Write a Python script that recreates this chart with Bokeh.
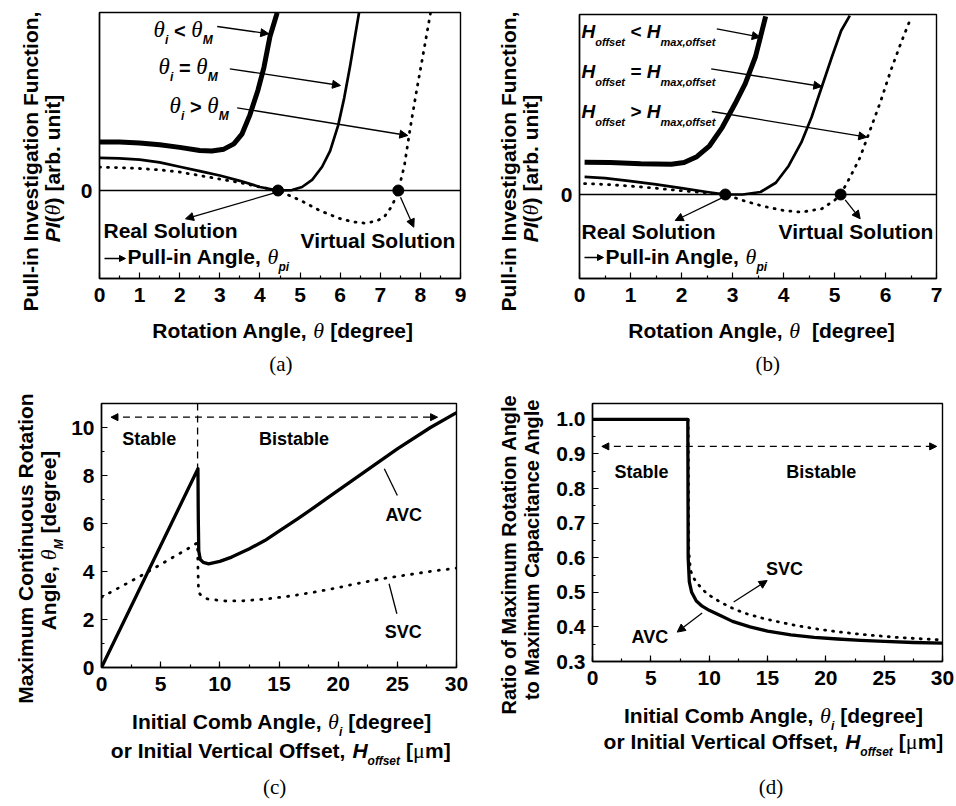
import math
from bokeh.plotting import figure
from bokeh.layouts import column, row
from bokeh.models import (Label, Arrow, NormalHead, Span, FixedTicker, Range1d,
                          SingleIntervalTicker, PrintfTickFormatter)
from bokeh.embed import file_html
from bokeh.resources import INLINE

# ---------------- data ----------------
# (a) Pull-in investigation function vs rotation angle
a_lt_x = [0, 0.5, 1.0, 1.5, 2.0, 2.5, 2.8, 3.1, 3.35, 3.55, 3.75, 3.95, 4.1, 4.25, 4.43]
a_lt_y = [0.55, 0.55, 0.54, 0.52, 0.49, 0.455, 0.45, 0.47, 0.53, 0.64, 0.86, 1.14, 1.40, 1.75, 2.02]
a_eq_x = [0, 0.5, 1.0, 1.5, 2.0, 2.5, 3.0, 3.5, 4.0, 4.45, 4.8, 5.05, 5.3, 5.55, 5.75, 5.95, 6.1, 6.25, 6.37, 6.47]
a_eq_y = [0.37, 0.365, 0.35, 0.32, 0.27, 0.22, 0.17, 0.11, 0.04, 0.0, 0.005, 0.04, 0.12, 0.27, 0.45, 0.74, 1.05, 1.42, 1.75, 2.02]
a_gt_x = [0, 0.5, 1.0, 1.5, 2.0, 2.5, 3.0, 3.5, 4.0, 4.45, 5.0, 5.5, 6.0, 6.3, 6.6, 6.9, 7.1, 7.3, 7.45, 7.6, 7.75, 7.9, 8.05, 8.25]
a_gt_y = [0.265, 0.26, 0.25, 0.235, 0.21, 0.17, 0.13, 0.09, 0.04, 0.0, -0.11, -0.23, -0.32, -0.355, -0.37, -0.35, -0.3, -0.17, 0.0, 0.28, 0.72, 1.12, 1.5, 2.01]
a_sol_x = [4.45, 7.45]
a_sol_y = [0, 0]
a_ticks = [0, 1, 2, 3, 4, 5, 6, 7, 8, 9]

# (b) same for vertical offset
b_lt_x = [0.1, 0.6, 1.2, 1.8, 2.05, 2.3, 2.55, 2.8, 3.05, 3.25, 3.45, 3.65]
b_lt_y = [0.385, 0.38, 0.365, 0.36, 0.38, 0.45, 0.58, 0.8, 1.08, 1.32, 1.64, 2.12]
b_eq_x = [0.1, 0.5, 1.0, 1.5, 2.0, 2.5, 2.86, 3.2, 3.55, 3.85, 4.1, 4.35, 4.55, 4.75, 4.95, 5.13, 5.3]
b_eq_y = [0.21, 0.195, 0.16, 0.12, 0.075, 0.03, 0.0, 0.0, 0.03, 0.14, 0.34, 0.62, 0.92, 1.28, 1.64, 1.95, 2.13]
b_gt_x = [0.1, 0.5, 1.0, 1.5, 2.0, 2.5, 2.86, 3.2, 3.6, 4.0, 4.35, 4.75, 5.0, 5.12, 5.3, 5.5, 5.7, 5.9, 6.1, 6.3, 6.51]
b_gt_y = [0.13, 0.12, 0.1, 0.075, 0.045, 0.02, 0.0, -0.07, -0.14, -0.19, -0.21, -0.17, -0.07, 0.0, 0.2, 0.44, 0.77, 1.1, 1.47, 1.8, 2.12]
b_sol_x = [2.86, 5.12]
b_sol_y = [0, 0]
b_ticks = [0, 1, 2, 3, 4, 5, 6, 7]

# (c) maximum continuous rotation angle
c_avc_x = [0, 8.15, 8.18, 8.22, 8.35, 8.6, 9.05, 10, 11, 12.5, 13.8, 15, 16.6, 18, 19.4, 22.2, 25, 27.8, 30]
c_avc_y = [0, 8.28, 6.2, 4.85, 4.5, 4.38, 4.32, 4.42, 4.6, 4.95, 5.29, 5.68, 6.2, 6.68, 7.17, 8.14, 9.11, 10.0, 10.62]
c_svc_x = [0, 1.5, 3, 4.5, 6, 7.2, 8.12, 8.15, 8.2, 8.5, 9, 10.5, 12, 14, 16, 18, 20, 22.2, 24, 26.4, 28, 30]
c_svc_y = [2.93, 3.33, 3.73, 4.15, 4.58, 4.92, 5.2, 4.2, 3.14, 2.95, 2.85, 2.77, 2.78, 2.86, 2.98, 3.14, 3.33, 3.56, 3.72, 3.9, 4.02, 4.14]
c_boundary = 8.12
c_arrow_level = 10.43

# (d) ratio of maximum rotation angle to maximum capacitance angle
d_avc_x = [0, 8.17, 8.2, 8.3, 8.5, 8.9, 9.4, 10, 11, 12, 13.5, 15, 17, 19, 21, 23, 25, 27.5, 30]
d_avc_y = [1.0, 1.0, 0.6, 0.53, 0.5, 0.475, 0.46, 0.448, 0.432, 0.416, 0.4, 0.388, 0.377, 0.37, 0.365, 0.361, 0.358, 0.355, 0.353]
d_svc_x = [0, 8.2, 8.25, 8.4, 8.7, 9.0, 9.8, 10.8, 11.8, 13, 14.7, 17, 19, 21, 23.2, 26, 30]
d_svc_y = [1.0, 1.0, 0.62, 0.563, 0.54, 0.525, 0.496, 0.475, 0.457, 0.44, 0.424, 0.407, 0.395, 0.386, 0.378, 0.37, 0.362]
d_arrow_level = 0.922
d_yticks = [0.3, 0.4, 0.5, 0.6, 0.7, 0.8, 0.9, 1.0]

# ---------------- helpers ----------------
SANS = "Liberation Sans"
SERIF = "Liberation Serif"
BASE_FIX = 0.33  # baseline correction (em) so the text baseline lands on the anchor

W_B = {}
for chars, w in [(" ,.", 278), ("()-[]", 333), ("<=>", 584), ("0123456789", 556),
                 ("ABCDHKNRU", 722), ("E", 667), ("FLTZ", 611), ("GOQ", 778),
                 ("I", 278), ("J", 556), ("M", 833), ("PSVXY", 667), ("W", 944),
                 ("acesvxyk", 556), ("bdghnopqu", 611), ("f", 333), ("t", 333),
                 ("ijl", 278), ("m", 889), ("r", 389), ("w", 778), ("z", 500)]:
    for ch in chars:
        W_B[ch] = w
W_S = {"θ": 500, "(": 333, ")": 333, "a": 444, "b": 500, "c": 444, "d": 500, "μ": 540, " ": 250}


def tw(text, st, size):
    table = W_S if st.startswith("s") else W_B
    return sum(table.get(ch, 556) for ch in text) * size / 1000.0


STYLE = {"b": (SANS, "bold"), "bi": (SANS, "bold italic"),
         "si": (SERIF, "italic"), "s": (SERIF, "normal")}

# frames in page pixels: left, right, top, bottom, x0, x1, y0, y1
FR = {
    "a": (99, 460, 12, 278, 0, 9, -1.0, 2.023),
    "b": (579, 936, 14, 278, 0, 7, -1.0, 2.143),
    "c": (99, 456, 403, 667, 0, 30, 0, 11),
    "d": (592, 942, 403, 661, 0, 30, 0.3, 1.046),
}


def px(k, rx, ry):
    L, R, T, B, x0, x1, y0, y1 = FR[k]
    return (x0 + (rx - L) / (R - L) * (x1 - x0), y0 + (B - ry) / (B - T) * (y1 - y0))


def rich(p, x, y, runs, align="left", angle=0.0):
    widths = [tw(t, st, sz) for t, st, sz, sh in runs]
    total = sum(widths)
    pos = {"left": 0.0, "center": -total / 2.0, "right": -total}[align]
    for (t, st, sz, sh), w in zip(runs, widths):
        font, fstyle = STYLE[st]
        lead = len(t) - len(t.lstrip(" "))
        start = pos + tw(" " * lead, st, sz)
        txt = t.strip(" ")
        fix = BASE_FIX * sz
        if txt:
            if angle == 0:
                xo, yo = start, -sh + fix
            else:
                xo, yo = sh - fix, start
            p.add_layout(Label(x=x, y=y, x_offset=xo, y_offset=yo, text=txt, angle=angle,
                               text_align="left", text_baseline="alphabetic",
                               text_font=font, text_font_style=fstyle,
                               text_font_size=f"{sz}px", text_color="black"))
        pos += w


def rich_px(p, k, rx, ry, runs, align="left", angle=0.0):
    x, y = px(k, rx, ry)
    rich(p, x, y, runs, align, angle)


def arrow(p, x0, y0, x1, y1, head=8, lw=1.3, dash="solid", both=False):
    h = lambda: NormalHead(size=head, fill_color="black", line_color="black", line_width=1)
    p.add_layout(Arrow(start=h() if both else None, end=h(), x_start=x0, y_start=y0,
                       x_end=x1, y_end=y1, line_width=lw, line_color="black", line_dash=dash))


def arrow_px(p, k, a, b, c, d, **kw):
    x0, y0 = px(k, a, b)
    x1, y1 = px(k, c, d)
    arrow(p, x0, y0, x1, y1, **kw)


def mkfig(k, X0, Y0, w, h):
    """Plot figure whose top-left corner sits at page pixel (X0, Y0)."""
    L, R, T, B, x0, x1, y0, y1 = FR[k]
    p = figure(width=w, height=h, x_range=Range1d(x0, x1), y_range=Range1d(y0, y1),
               output_backend="svg", toolbar_location=None,
               min_border_left=L - X0, min_border_right=X0 + w - R,
               min_border_top=T - Y0, min_border_bottom=Y0 + h - B)
    p.xgrid.visible = False
    p.ygrid.visible = False
    p.outline_line_color = "black"
    p.outline_line_width = 1.4
    p.outline_line_alpha = 1.0
    p.background_fill_color = "white"
    p.border_fill_color = "white"
    for ax in (p.xaxis[0], p.yaxis[0]):
        ax.axis_line_width = 1.4
        ax.axis_line_color = "black"
        ax.major_tick_in = 6
        ax.major_tick_out = 0
        ax.minor_tick_in = 3
        ax.minor_tick_out = 0
        ax.major_tick_line_width = 1.2
        ax.minor_tick_line_width = 1.2
        ax.major_label_text_font = SANS
        ax.major_label_text_font_style = "bold"
        ax.major_label_text_font_size = "21px"
        ax.major_label_text_color = "black"
        ax.major_label_standoff = 7
    p.xaxis[0].major_label_standoff = 9
    return p


class Strip:
    """Text-only figure covering page pixels X0..X0+w, Y0..Y0+h."""

    def __init__(self, X0, Y0, w, h):
        self.X0, self.Y0, self.w, self.h = X0, Y0, w, h
        p = figure(width=w, height=h, x_range=Range1d(0, w), y_range=Range1d(0, h),
                   x_axis_type=None, y_axis_type=None, output_backend="svg",
                   toolbar_location=None, min_border=0)
        p.min_border_left = p.min_border_right = p.min_border_top = p.min_border_bottom = 0
        p.xgrid.visible = False
        p.ygrid.visible = False
        p.outline_line_color = None
        p.background_fill_color = "white"
        p.border_fill_color = "white"
        self.p = p

    def text(self, rx, ry, runs, align="center", angle=0.0):
        rich(self.p, rx - self.X0, self.Y0 + self.h - ry, runs, align, angle)


Y_ROT = math.pi / 2
XLAB_A = [("Rotation Angle, ", "b", 21, 0), ("θ", "si", 22, 0), (" [degree]", "b", 21, 0)]
XLAB_B = [("Rotation Angle, ", "b", 21, 0), ("θ", "si", 22, 0), ("  [degree]", "b", 21, 0)]
PI_LAB = [("PI", "bi", 21, 0), ("(", "b", 21, 0), ("θ", "si", 22, 0), (") [arb. unit]", "b", 21, 0)]
XL1 = [("Initial Comb Angle, ", "b", 21, 0), ("θ", "si", 22, 0), ("i", "bi", 12, 7),
       (" [degree]", "b", 21, 0)]
XL2 = [("or Initial Vertical Offset, ", "b", 21, 0), ("H", "bi", 21, 0), ("offset", "bi", 12, 7),
       (" [", "b", 21, 0), ("μ", "s", 22, 0), ("m]", "b", 21, 0)]

# ---------------- panel (a) ----------------
aL = Strip(0, 0, 68, 388)
pa = mkfig("a", 68, 0, 410, 310)
aB = Strip(68, 310, 410, 78)
pa.xaxis[0].ticker = FixedTicker(ticks=a_ticks, minor_ticks=[t + 0.5 for t in a_ticks[:-1]])
pa.yaxis[0].ticker = FixedTicker(ticks=[0])
pa.yaxis[0].major_tick_in = 0
pa.add_layout(Span(location=0, dimension="width", line_color="black", line_width=1.3))
pa.line(a_lt_x, a_lt_y, line_width=5, color="black", line_join="round")
pa.line(a_eq_x, a_eq_y, line_width=2.7, color="black", line_join="round")
pa.line(a_gt_x, a_gt_y, line_width=2.8, color="black", line_dash="1 7", line_cap="round")
pa.scatter(a_sol_x, a_sol_y, size=11, color="black")

aL.text(37, 161, [("Pull-in Investigation Function,", "b", 21, 0)], "center", Y_ROT)
aL.text(59, 168, PI_LAB, "center", Y_ROT)
aB.text(276, 337, XLAB_A, "center")
aB.text(274, 370, [("(a)", "s", 21, 0)], "center")
for ry, rx, op in [(37, 153, " < "), (74, 158, " = "), (113, 169, " > ")]:
    rich_px(pa, "a", rx, ry, [("θ", "si", 23, 0), ("i", "bi", 12, 6), (op, "b", 20, 0),
                             ("θ", "si", 23, 0), ("M", "bi", 12, 6)])
rich_px(pa, "a", 103, 237, [("Real Solution", "b", 21, 0)])
rich_px(pa, "a", 127, 263, [("Pull-in Angle, ", "b", 21, 0), ("θ", "si", 22, 0), ("pi", "bi", 12, 7)])
rich_px(pa, "a", 300, 247, [("Virtual Solution", "b", 21, 0)])
arrow_px(pa, "a", 104, 258, 125, 258, head=6, lw=1.5)
arrow_px(pa, "a", 216.7, 26, 268.3, 33.3)
arrow_px(pa, "a", 229.3, 68.3, 340, 85)
arrow_px(pa, "a", 236.7, 107.3, 407.3, 135)
arrow_px(pa, "a", 273.3, 192.7, 185, 218.3)
arrow_px(pa, "a", 400, 196.7, 413.3, 226.7)

# ---------------- panel (b) ----------------
bL = Strip(478, 0, 70, 388)
pb = mkfig("b", 548, 0, 408, 310)
bB = Strip(548, 310, 408, 78)
pb.xaxis[0].ticker = FixedTicker(ticks=b_ticks, minor_ticks=[t + 0.5 for t in b_ticks[:-1]])
pb.yaxis[0].ticker = FixedTicker(ticks=[0])
pb.yaxis[0].major_tick_in = 0
pb.add_layout(Span(location=0, dimension="width", line_color="black", line_width=1.3))
pb.line(b_lt_x, b_lt_y, line_width=5, color="black", line_join="round")
pb.line(b_eq_x, b_eq_y, line_width=2.7, color="black", line_join="round")
pb.line(b_gt_x, b_gt_y, line_width=2.8, color="black", line_dash="1 7", line_cap="round")
pb.scatter(b_sol_x, b_sol_y, size=11, color="black")

bL.text(515, 161, [("Pull-in Investigation Function,", "b", 21, 0)], "center", Y_ROT)
bL.text(537, 168, PI_LAB, "center", Y_ROT)
bB.text(756, 337, XLAB_B, "center")
bB.text(763, 370, [("(b)", "s", 21, 0)], "center")
for ry, op in [(37, " < "), (77, " = "), (117, " > ")]:
    rich_px(pb, "b", 581, ry, [("H", "bi", 19, 0), ("offset", "bi", 11, 8), (op, "b", 19, 0),
                              ("H", "bi", 19, 0), ("max,offset", "bi", 11, 8)])
rich_px(pb, "b", 581, 238, [("Real Solution", "b", 21, 0)])
rich_px(pb, "b", 605, 263, [("Pull-in Angle, ", "b", 21, 0), ("θ", "si", 22, 0), ("pi", "bi", 12, 7)])
rich_px(pb, "b", 778, 238, [("Virtual Solution", "b", 21, 0)])
arrow_px(pb, "b", 584, 257, 603, 257, head=6, lw=1.5)
arrow_px(pb, "b", 716.3, 28.3, 759.7, 36.7)
arrow_px(pb, "b", 710.7, 68.3, 821.3, 86)
arrow_px(pb, "b", 711.3, 111, 866.3, 136.7)
arrow_px(pb, "b", 723, 196.7, 674.7, 220)
arrow_px(pb, "b", 844.7, 199.3, 859.7, 218.3)

# ---------------- panel (c) ----------------
cL = Strip(0, 388, 68, 418)
pc = mkfig("c", 68, 388, 410, 312)
cB = Strip(68, 700, 410, 106)
pc.xaxis[0].ticker = SingleIntervalTicker(interval=5, num_minor_ticks=2)
pc.yaxis[0].ticker = SingleIntervalTicker(interval=2, num_minor_ticks=2)
pc.line(c_avc_x, c_avc_y, line_width=3.3, color="black", line_join="round")
pc.line(c_svc_x, c_svc_y, line_width=2.8, color="black", line_dash="1 8", line_cap="round")
pc.line([c_boundary, c_boundary], [11, max(c_avc_y[:2])], line_width=1.3, color="black", line_dash="7 5")
arrow(pc, 0.8, c_arrow_level, 28.4, c_arrow_level, head=7, lw=1.3, dash="7 5", both=True)
pc.segment(x0=[23.9, 24.3], y0=[8.28, 3.49], x1=[25.0, 24.96], y1=[7.17, 2.24],
           line_width=1.3, color="black")
rich(pc, 4.03, 9.29, [("Stable", "b", 18, 0)], "center")
rich(pc, 16.26, 9.29, [("Bistable", "b", 18, 0)], "center")
rich(pc, 25.6, 6.125, [("AVC", "b", 18, 0)], "center")
rich(pc, 25.5, 1.25, [("SVC", "b", 18, 0)], "center")
cL.text(32, 548, [("Maximum Continuous Rotation", "b", 21, 0)], "center", Y_ROT)
cL.text(55, 540, [("Angle, ", "b", 21, 0), ("θ", "si", 22, 0), ("M", "bi", 12, 7),
                  (" [degree]", "b", 21, 0)], "center", Y_ROT)
cB.text(276, 728, XL1, "center")
cB.text(275, 757, XL2, "center")
cB.text(268, 793, [("(c)", "s", 21, 0)], "center")

# ---------------- panel (d) ----------------
dL = Strip(478, 388, 70, 418)
pd_ = mkfig("d", 548, 388, 408, 308)
dB = Strip(548, 696, 408, 110)
pd_.xaxis[0].ticker = SingleIntervalTicker(interval=5, num_minor_ticks=2)
pd_.yaxis[0].ticker = FixedTicker(ticks=d_yticks, minor_ticks=[t + 0.05 for t in d_yticks[:-1]])
pd_.yaxis[0].formatter = PrintfTickFormatter(format="%.1f")
pd_.line(d_svc_x, d_svc_y, line_width=2.8, color="black", line_dash="1 7", line_cap="round")
pd_.line(d_avc_x, d_avc_y, line_width=3.3, color="black", line_join="round")
arrow(pd_, 0.8, d_arrow_level, 29.5, d_arrow_level, head=7, lw=1.3, dash="7 5", both=True)
arrow(pd_, 12.1, 0.472, 14.97, 0.534, head=8)
arrow(pd_, 9.4, 0.44, 7.26, 0.385, head=8)
rich(pd_, 4.2, 0.832, [("Stable", "b", 18, 0)], "center")
rich(pd_, 19.6, 0.832, [("Bistable", "b", 18, 0)], "center")
rich(pd_, 16.45, 0.549, [("SVC", "b", 18, 0)], "center")
rich(pd_, 4.97, 0.355, [("AVC", "b", 18, 0)], "center")
dL.text(515, 554, [("Ratio of Maximum Rotation Angle", "b", 20, 0)], "center", Y_ROT)
dL.text(538, 549, [("to Maximum Capacitance Angle", "b", 20, 0)], "center", Y_ROT)
dB.text(759, 722, XL1, "center")
dB.text(759, 748, XL2, "center")
dB.text(756, 793, [("(d)", "s", 21, 0)], "center")


def quad(L, P, B):
    return row(L.p, column(P, B.p))


layout = column(row(quad(aL, pa, aB), quad(bL, pb, bB)),
                row(quad(cL, pc, cB), quad(dL, pd_, dB)))
open("out.html", "w").write(file_html(layout, INLINE))
